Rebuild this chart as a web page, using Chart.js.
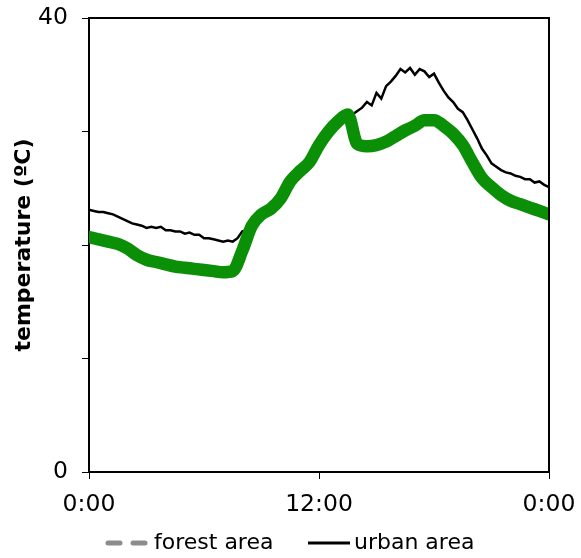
<!DOCTYPE html>
<html>
<head>
<meta charset="utf-8">
<script src="https://cdn.jsdelivr.net/npm/chart.js@4"></script>
<style>
html, body { margin: 0; padding: 0; background: #fff; }
#wrap { width: 581px; height: 558px; }
</style>
</head>
<body>
<div id="wrap"><canvas id="chart" width="581" height="558"></canvas></div>
<script>
// forest series, half hour steps
var forestHours = [0,0.5,1,1.5,2,2.5,3,3.5,4,4.5,5,5.5,6,6.5,7,7.5,8,8.5,9,9.5,10,10.5,11,11.5,
                   12,12.5,13,13.5,14,14.5,15,15.5,16,16.5,17,17.5,18,18.5,19,19.5,20,20.5,21,21.5,22,22.5,23,23.5,24];

var forestTemp = [20.7,20.5,20.3,20.1,19.7,19.1,18.7,18.5,18.3,18.1,18.0,17.9,17.8,17.7,17.6,17.7,
                  19.5,21.7,22.7,23.2,24.1,25.6,26.5,27.3,28.8,30.0,30.9,31.5,28.9,28.7,28.8,29.1,
                  29.6,30.1,30.5,31.0,31.0,30.5,29.8,28.8,27.3,25.9,25.1,24.4,23.9,23.6,23.3,23.0,22.7];

// urban series, quarter hour steps
var urbanHours = [];
for (var h = 0; h <= 24; h += 0.25) urbanHours.push(h);

var urbanTemp = [23.1,23.0,22.9,22.9,22.8,22.7,22.5,22.3,22.1,21.9,21.8,21.7,21.5,21.6,21.5,21.6,
                 21.3,21.3,21.2,21.2,21.0,21.1,20.9,20.9,20.6,20.6,20.5,20.4,20.3,20.4,20.3,20.6,
                 21.2,21.3,21.6,22.0,22.5,22.7,23.0,23.4,24.0,24.6,25.2,25.6,26.1,26.5,27.0,27.6,
                 28.3,29.0,29.6,30.1,30.6,30.9,31.2,31.5,31.8,32.1,32.6,32.3,33.4,32.9,34.0,34.4,
                 34.9,35.5,35.2,35.6,35.0,35.5,35.3,34.8,35.1,34.3,33.6,33.0,32.6,32.0,31.7,31.0,
                 30.2,29.4,28.5,27.9,27.2,26.9,26.6,26.4,26.3,26.1,26.0,25.8,25.8,25.5,25.6,25.3,25.1];

var xTickLabels = {0: '0:00', 12: '12:00', 24: '0:00'};
var yTickLabels = {0: '0', 40: '40'};
var legendNames = ['forest area', 'urban area'];

function pts(xs, vals) {
  return xs.map(function(h, i) { return {x: h, y: vals[i]}; });
}

var frame = {
  id: 'frame',
  afterDatasetsDraw: function(chart) {
    var c = chart.ctx, a = chart.chartArea;
    c.save();
    c.strokeStyle = '#000';
    c.lineWidth = 2;
    c.beginPath();
    c.moveTo(a.left, a.top);
    c.lineTo(a.right, a.top);
    c.lineTo(a.right, a.bottom);
    c.stroke();
    c.restore();
  },
  afterDraw: function(chart) {
    var c = chart.ctx;
    var y = 543;
    c.save();
    c.font = '22px "DejaVu Sans"';
    c.textBaseline = 'middle';
    c.fillStyle = '#000';
    // forest area: grey dashed
    c.strokeStyle = '#8c8c8c';
    c.lineWidth = 5;
    c.lineCap = 'round';
    c.beginPath();
    c.moveTo(108, y); c.lineTo(120, y);
    c.moveTo(133, y); c.lineTo(145, y);
    c.stroke();
    c.fillText(legendNames[0], 154, y);
    // urban area: black solid
    c.strokeStyle = '#000';
    c.lineWidth = 3;
    c.lineCap = 'butt';
    c.beginPath();
    c.moveTo(308, y); c.lineTo(350, y);
    c.stroke();
    c.fillText(legendNames[1], 354, y);
    c.restore();
  }
};

new Chart(document.getElementById('chart'), {
  type: 'line',
  data: {
    datasets: [
      {
        label: 'forest',
        data: pts(forestHours, forestTemp),
        borderColor: '#0a8f07',
        borderWidth: 12.5,
        borderCapStyle: 'round',
        borderJoinStyle: 'round',
        cubicInterpolationMode: 'monotone',
        pointRadius: 0,
        order: 0
      },
      {
        label: legendNames[1],
        data: pts(urbanHours, urbanTemp),
        borderColor: '#000',
        borderWidth: 2.5,
        tension: 0,
        pointRadius: 0,
        order: 1
      },
      {
        label: legendNames[0],
        data: pts(forestHours, forestTemp),
        borderColor: '#8c8c8c',
        borderWidth: 5,
        borderDash: [10, 8],
        cubicInterpolationMode: 'monotone',
        pointRadius: 0,
        order: 2
      }
    ]
  },
  options: {
    responsive: false,
    animation: false,
    layout: { padding: { top: 18, right: 32, bottom: 0, left: 0 } },
    plugins: {
      legend: { display: false },
      tooltip: { enabled: false }
    },
    scales: {
      x: {
        type: 'linear',
        min: 0,
        max: 24,
        afterFit: function(s) { s.height = 86; s.paddingLeft = 0; s.paddingRight = 0; },
        afterBuildTicks: function(s) { s.ticks = [{value: 0}, {value: 12}, {value: 24}]; },
        ticks: {
          autoSkip: false,
          maxRotation: 0,
          padding: 12,
          color: '#000',
          font: { family: 'DejaVu Sans', size: 23.5 },
          callback: function(v) { return xTickLabels[v] || ''; }
        },
        grid: { drawOnChartArea: false, drawTicks: true, tickLength: 7, color: '#000', lineWidth: 1 },
        border: { color: '#000', width: 2 }
      },
      y: {
        min: 0,
        max: 40,
        afterFit: function(s) { s.width = 89; s.paddingTop = 0; s.paddingBottom = 0; },
        ticks: {
          stepSize: 10,
          padding: 14,
          color: '#000',
          font: { family: 'DejaVu Sans', size: 23.5 },
          callback: function(v) { return yTickLabels[v] !== undefined ? yTickLabels[v] : ''; }
        },
        grid: { drawOnChartArea: false, drawTicks: true, tickLength: 7, color: '#000', lineWidth: 1 },
        border: { color: '#000', width: 2 },
        title: {
          display: true,
          text: 'temperature (ºC)',
          color: '#000',
          font: { family: 'DejaVu Sans', size: 22, weight: 'bold' },
          padding: { top: 11, bottom: 0 }
        }
      }
    }
  },
  plugins: [frame]
});
</script>
</body>
</html>
